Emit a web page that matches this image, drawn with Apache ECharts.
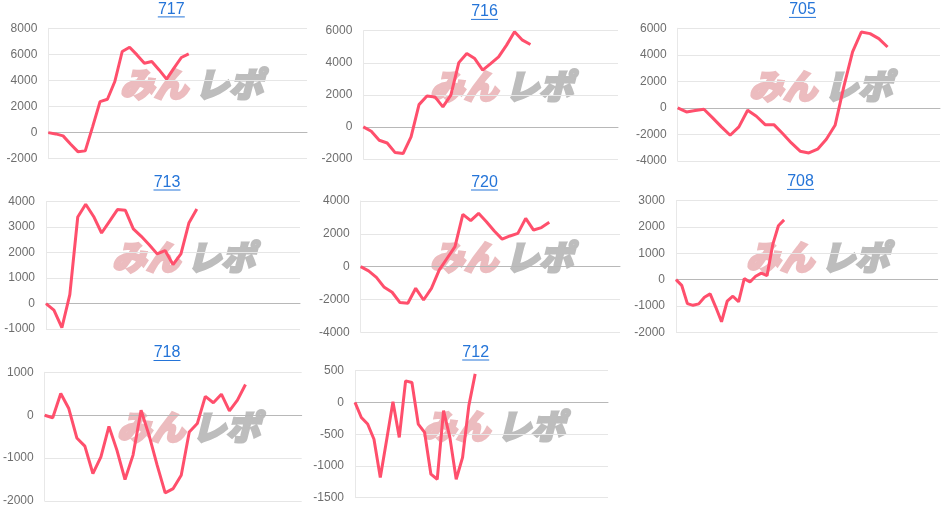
<!DOCTYPE html>
<html>
<head>
<meta charset="utf-8">
<script src="https://cdn.jsdelivr.net/npm/echarts@6.0.0/dist/echarts.min.js"></script>
<style>
  html, body { margin: 0; padding: 0; background: #fff; }
  #main { width: 952px; height: 509px; }
</style>
</head>
<body>
<div id="main"></div>
<script>
// machine numbers, one panel each
var machines = ['717', '716', '705', '713', '720', '708', '718', '712']

// number of slots on each x axis
var slotCounts = [36, 33, 31, 33, 34, 47, 33, 41]

// y axis ticks
var tickMin = [-2000, -2000, -4000, -1000, -4000, -2000, -2000, -1500]
var tickMax = [8000, 6000, 6000, 4000, 4000, 3000, 1000, 500]
var tickStep = [2000, 2000, 2000, 1000, 2000, 1000, 1000, 500]

// 差枚数 per machine
var v717 = [0, -100, -250, -870, -1460, -1400, 460, 2380, 2560, 3920, 6220, 6550, 5960, 5320, 5450, 4810, 4100, 4940, 5760, 6040]
var v716 = [0, -270, -830, -1000, -1600, -1660, -620, 1390, 1930, 1870, 1250, 1980, 4010, 4580, 4260, 3540, 3950, 4370, 5100, 5930, 5410, 5140]
var v705 = [0, -300, -200, -100, -750, -1430, -2060, -1430, -180, -630, -1260, -1260, -1930, -2640, -3260, -3390, -3110, -2360, -1310, 1600, 4220, 5720, 5600, 5220, 4590]
var v713 = [0, -260, -950, 350, 3400, 3900, 3420, 2770, 3230, 3690, 3660, 2930, 2640, 2310, 1950, 2080, 1530, 1950, 3160, 3710]
var v720 = [0, -260, -650, -1260, -1560, -2190, -2230, -1320, -2030, -1320, -200, 510, 1220, 3190, 2800, 3250, 2740, 2170, 1680, 1870, 2030, 2940, 2230, 2380, 2700]
var v708 = [0, -215, -910, -975, -920, -670, -540, -1050, -1600, -820, -630, -840, 40, -90, 130, 250, 150, 1330, 2050, 2270]
var v718 = [0, -60, 505, 155, -530, -720, -1360, -970, -260, -820, -1500, -930, 115, -470, -1165, -1810, -1710, -1400, -390, -195, 440, 290, 490, 100, 350, 715]
var v712 = [0, -237, -340, -580, -1180, -590, 10, -550, 340, 315, -340, -470, -1130, -1210, -130, -550, -1210, -870, -50, 450]
var values = [v717, v716, v705, v713, v720, v708, v718, v712]

// panel boxes in px: left, top, width, height
var boxes = [
  [48.3, 28.3, 258.7, 130.4],
  [363.3, 30.7, 254.7, 128.3],
  [677.7, 28.3, 262.3, 132.7],
  [46, 201.7, 254, 127.3],
  [360.7, 201, 259.3, 131.3],
  [676, 200.7, 261.7, 131.6],
  [44.3, 372.3, 257.4, 128.7],
  [355, 370.7, 253, 127]
]
// title centre x / y, watermark centre x / y
var titlePos = [[171.3, 9.4], [484.5, 11.9], [802.5, 9.9], [167, 182.5], [484.5, 182.5], [800.5, 181.9], [167, 353], [475.7, 352.5]]
var markPos = [[190, 84], [500, 86], [819, 86], [182, 257], [500, 257], [816, 257], [187, 427], [492, 426]]

var chart = echarts.init(document.getElementById('main'))

var grids = []
var xAxes = []
var yAxes = []
var series = []
var graphics = []

machines.forEach(function (name, i) {
  var b = boxes[i]
  var cats = []
  for (var k = 1; k <= slotCounts[i]; k++) cats.push(String(k))

  grids.push({ left: b[0], top: b[1], width: b[2], height: b[3], containLabel: false })
  xAxes.push({
    type: 'category',
    gridIndex: i,
    data: cats,
    boundaryGap: false,
    axisLine: { show: true, onZero: true, lineStyle: { color: '#b8b8b8', width: 1 } },
    axisTick: { show: false },
    axisLabel: { show: false },
    splitLine: { show: false }
  })
  yAxes.push({
    type: 'value',
    gridIndex: i,
    min: tickMin[i],
    max: tickMax[i],
    interval: tickStep[i],
    axisLine: { show: true, lineStyle: { color: '#e8e8e8' } },
    axisTick: { show: false },
    axisLabel: {
      color: '#6e6e6e',
      fontSize: 12,
      margin: 11,
      fontFamily: 'Liberation Sans, Arial, sans-serif',
      formatter: function (v) { return String(v) }
    },
    splitLine: { show: true, lineStyle: { color: '#e6e6e6' } }
  })
  series.push({
    type: 'line',
    name: name,
    xAxisIndex: i,
    yAxisIndex: i,
    data: values[i],
    symbol: 'none',
    z: 5,
    lineStyle: { color: '#ff4f6c', width: 3 },
    itemStyle: { color: '#ff4f6c' }
  })

  // title link
  var t = titlePos[i]
  graphics.push({
    type: 'text',
    x: t[0],
    y: t[1],
    style: {
      text: name,
      fill: '#2474d8',
      font: '16px "Liberation Sans", Arial, sans-serif',
      textAlign: 'center',
      textVerticalAlign: 'middle'
    }
  })
  graphics.push({
    type: 'rect',
    shape: { x: t[0] - 13.5, y: t[1] + 7, width: 27, height: 1 },
    style: { fill: '#2474d8' }
  })

  // みんレポ watermark
  var m = markPos[i]
  graphics.push({
    type: 'text',
    x: m[0] - 2,
    y: m[1],
    z: 0,
    style: {
      text: 'みん',
      fill: '#ecbcbf',
      stroke: '#ecbcbf',
      lineWidth: 2.5,
      font: 'italic 900 34px "Noto Sans CJK JP", sans-serif',
      textAlign: 'right',
      textVerticalAlign: 'middle'
    }
  })
  graphics.push({
    type: 'text',
    x: m[0] + 5,
    y: m[1],
    z: 0,
    style: {
      text: 'レポ',
      fill: '#bdbdbd',
      stroke: '#bdbdbd',
      lineWidth: 2.5,
      font: 'italic 900 34px "Noto Sans CJK JP", sans-serif',
      textAlign: 'left',
      textVerticalAlign: 'middle'
    }
  })
})

var option = {
  animation: false,
  backgroundColor: '#fff',
  grid: grids,
  xAxis: xAxes,
  yAxis: yAxes,
  series: series,
  graphic: graphics
}
chart.setOption(option)
</script>
</body>
</html>
